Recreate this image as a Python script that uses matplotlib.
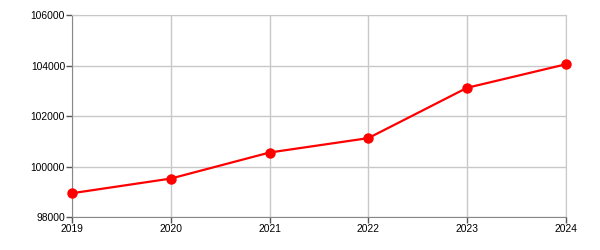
import matplotlib
matplotlib.use("Agg")
import matplotlib.pyplot as plt

plt.rcParams['font.family'] = ['Liberation Sans', 'DejaVu Sans']

years = [2019, 2020, 2021, 2022, 2023, 2024]
values = [98950, 99530, 100560, 101130, 103120, 104050]
y_ticks = [98000, 100000, 102000, 104000, 106000]

fig = plt.figure(figsize=(6, 2.5), dpi=100)
ax = fig.add_axes([0.12, 0.131, 0.823, 0.809])

ax.plot(years, values, color='#ff0000', linewidth=1.6, marker='o',
        markersize=6.5, zorder=3, clip_on=False)

ax.set_xlim(years[0], years[-1])
ax.set_ylim(y_ticks[0], y_ticks[-1])
ax.set_xticks(years)
ax.set_yticks(y_ticks)
ax.set_xticklabels([str(y) for y in years])
ax.set_yticklabels([str(v) for v in y_ticks])

ax.grid(True, color='#c8c8c8', linewidth=1)
ax.set_axisbelow(True)
for side in ['top', 'right']:
    ax.spines[side].set_color('#c8c8c8')
for side in ['left', 'bottom']:
    ax.spines[side].set_color('#888888')
ax.tick_params(axis='both', colors='#555555', labelcolor='black',
               labelsize=7.4, length=4, width=1, pad=1)

fig.savefig('out.png', dpi=100)
